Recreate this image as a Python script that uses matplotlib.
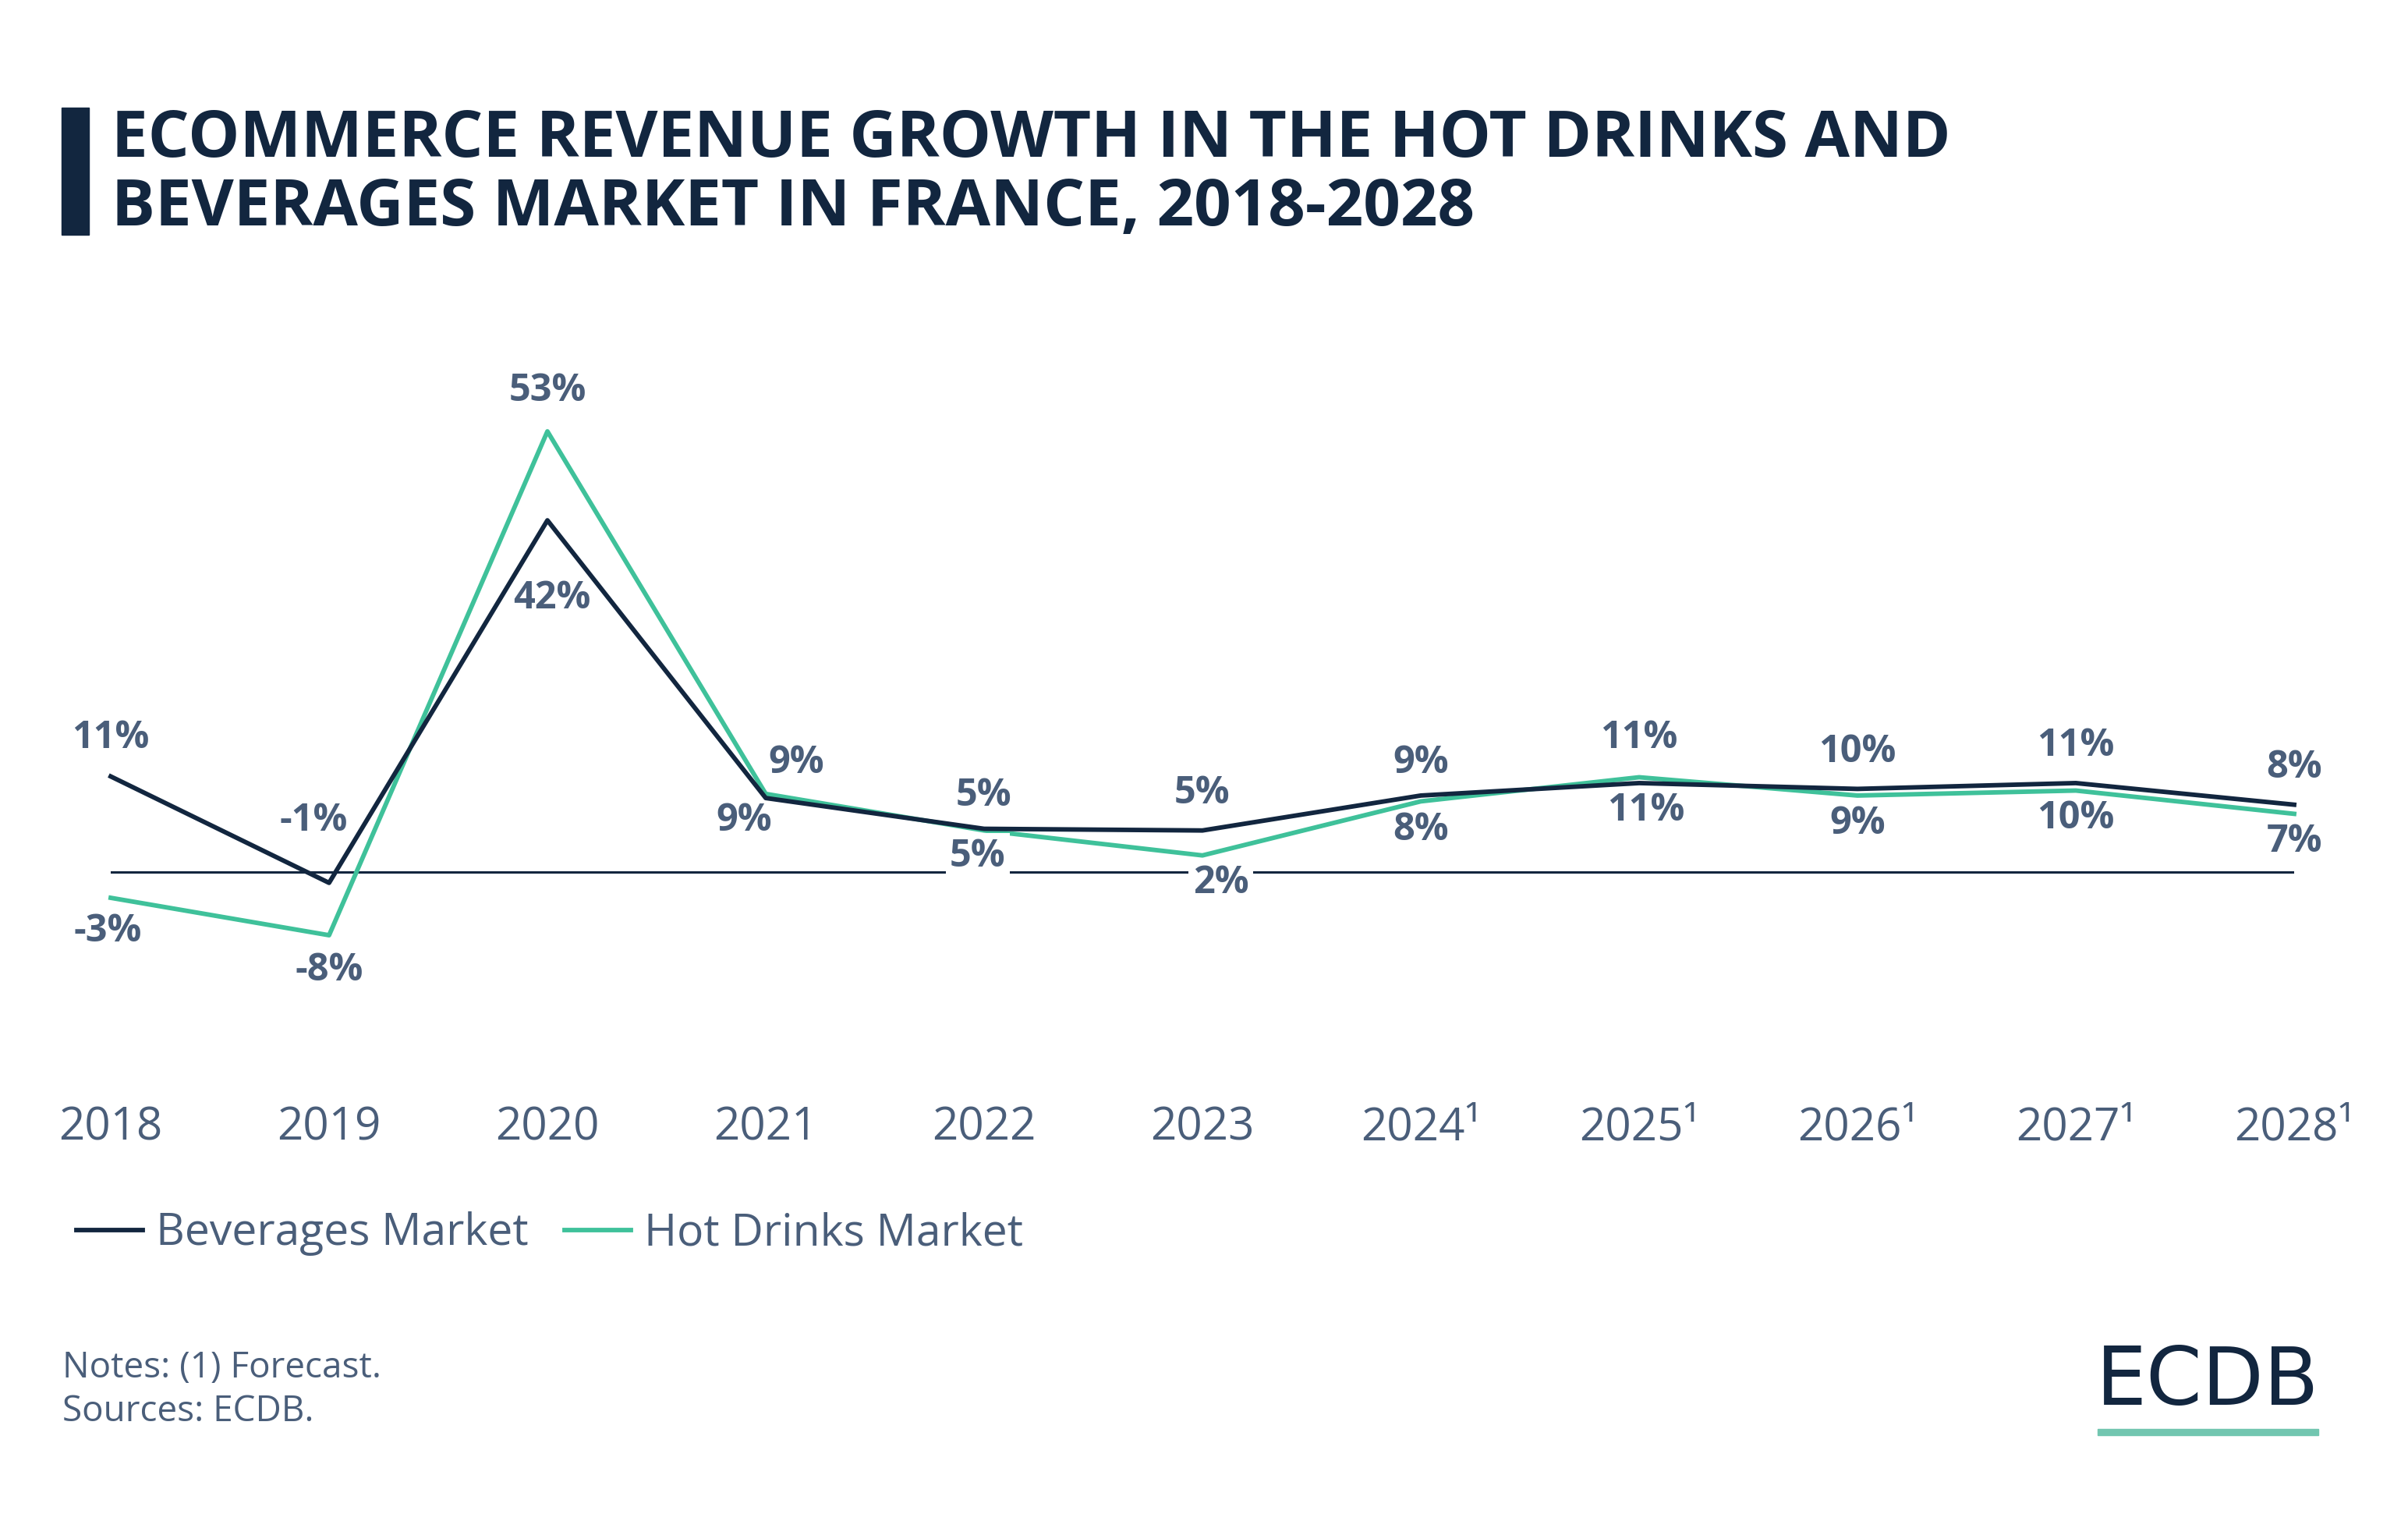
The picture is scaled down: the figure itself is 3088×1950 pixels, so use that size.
import matplotlib
matplotlib.use("Agg")
import matplotlib.pyplot as plt
from matplotlib.lines import Line2D
from matplotlib.patches import Rectangle

plt.rcParams['font.family'] = ['Open Sans', 'DejaVu Sans']

NAVY = "#12263f"
TEAL = "#3fc19a"
SLATE = "#4a5e7a"

years = ["2018", "2019", "2020", "2021", "2022", "2023",
         "2024¹", "2025¹", "2026¹", "2027¹", "2028¹"]
beverages = [11.5, -1.3, 42.3, 8.9, 5.2, 5.0, 9.2, 10.7, 10.0, 10.7, 8.1]
hot_drinks = [-3.1, -7.6, 53.0, 9.4, 5.0, 2.0, 8.5, 11.4, 9.2, 9.8, 7.0]
bev_labels = ["11%", "-1%", "42%", "9%", "5%", "5%", "9%", "11%", "10%", "11%", "8%"]
hot_labels = ["-3%", "-8%", "53%", "9%", "5%", "2%", "8%", "11%", "9%", "10%", "7%"]

# label offsets in points (layout only)
bev_off = [(0, 35), (-14, 57), (4, -72), (-20, -21), (0, 30), (0, 34),
           (0, 30), (0, 41), (0, 34), (0, 34), (0, 34)]
hot_off = [(-3, -31), (0, -33), (0, 37), (28, 28), (-6, -24), (17, -26),
           (0, -27), (6, -31), (0, -26), (0, -26), (0, -26)]

W, H = 3088, 1950
fig = plt.figure(figsize=(W / 100, H / 100), dpi=100)

# axes: x 142..2942 px, y 400..1300 px (zero at 1118)
ppu = 10.66
ax = fig.add_axes([142 / W, 1 - 1300 / H, 2800 / W, 900 / H])
ax.set_xlim(0, 10)
ax.set_ylim(-(1300 - 1118) / ppu, (1118 - 400) / ppu)
for s in ax.spines.values():
    s.set_visible(False)
ax.set_yticks([])

x = list(range(len(years)))
ax.plot([x[0], x[-1]], [0, 0], color=NAVY, lw=2.2, zorder=1)
ax.plot(x, hot_drinks, color=TEAL, lw=4.2, clip_on=False, zorder=3)
ax.plot(x, beverages, color=NAVY, lw=4.2, clip_on=False, zorder=4)

for i in x:
    ax.annotate(bev_labels[i], (i, beverages[i]), xytext=bev_off[i],
                textcoords="offset points", ha="center", va="center",
                fontsize=35, fontweight="bold", color=SLATE, zorder=5)
    bbox = None
    if i in (4, 5):
        bbox = dict(facecolor="white", edgecolor="none", pad=4)
    ax.annotate(hot_labels[i], (i, hot_drinks[i]), xytext=hot_off[i],
                textcoords="offset points", ha="center", va="center",
                fontsize=35, fontweight="bold", color=SLATE, zorder=5, bbox=bbox)

ax.set_xticks(x)
ax.set_xticklabels(years, fontsize=42, color=SLATE)
ax.tick_params(axis="x", length=0, pad=84)

# legend
handles = [Line2D([], [], color=NAVY, lw=4.2), Line2D([], [], color=TEAL, lw=4.2)]
fig.legend(handles, ["Beverages Market", "Hot Drinks Market"],
           loc="center left", bbox_to_anchor=(98 / W, 1 - 1582 / H),
           ncol=2, frameon=False, fontsize=41, labelcolor=SLATE,
           handlelength=1.5, handletextpad=0.3, columnspacing=0.8,
           borderpad=0, borderaxespad=0)

# title with bar
fig.patches.append(Rectangle((79 / W, 1 - 301 / H), 35 / W, 163 / H,
                             transform=fig.transFigure, color=NAVY))
fig.text(143 / W, 1 - 180 / H, "ECOMMERCE REVENUE GROWTH IN THE HOT DRINKS AND",
         fontsize=60, fontweight="bold", color=NAVY, va="center")
fig.text(143 / W, 1 - 268 / H, "BEVERAGES MARKET IN FRANCE, 2018-2028",
         fontsize=60, fontweight="bold", color=NAVY, va="center")

# notes
fig.text(80 / W, 1 - 1754 / H, "Notes: (1) Forecast.", fontsize=33, color=SLATE, va="center")
fig.text(80 / W, 1 - 1810 / H, "Sources: ECDB.", fontsize=33, color=SLATE, va="center")

# logo
fig.text(2831 / W, 1 - 1772 / H, "ECDB", fontsize=74, color=NAVY, ha="center",
         va="center", family="DejaVu Sans")
fig.patches.append(Rectangle((2690 / W, 1 - 1840 / H), 283 / W, 8 / H,
                             transform=fig.transFigure, color="#72c6b0"))

fig.savefig("out.png", dpi=100, facecolor="white")
